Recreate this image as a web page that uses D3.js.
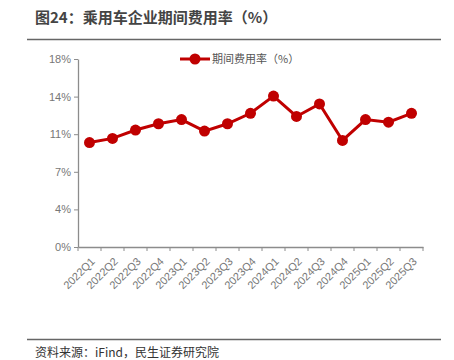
<!DOCTYPE html>
<html><head><meta charset="utf-8">
<script src="https://cdn.jsdelivr.net/npm/d3@7"></script>
<style>body{margin:0;background:#fff;font-family:"Noto Sans CJK SC","Liberation Sans",sans-serif;}</style>
</head><body><svg id="c" width="454" height="360"></svg>
<script>
const categories = ["2022Q1","2022Q2","2022Q3","2022Q4","2023Q1","2023Q2","2023Q3","2023Q4","2024Q1","2024Q2","2024Q3","2024Q4","2025Q1","2025Q2","2025Q3"];
const values = [10.0, 10.4, 11.2, 11.8, 12.2, 11.1, 11.8, 12.8, 14.45, 12.5, 13.7, 10.2, 12.2, 11.95, 12.8];
const yTicks = [0, 3.6, 7.2, 10.8, 14.4, 18];
const seriesName = "期间费用率（%）";
const title = "图24：乘用车企业期间费用率（%）";
const source = "资料来源：iFind，民生证券研究院";

const svg = d3.select("#c");
const L = 78, R = 423, T = 59, B = 247;
const x = d3.scaleBand().domain(categories).range([L, R]);
const y = d3.scaleLinear().domain([0, 18]).range([B, T]);
const red = "#C00000", axisC = "#8c8c8c", textC = "#777";

svg.append("text").attr("x", 35).attr("y", 23).attr("font-size", 15).attr("font-weight", "bold").attr("fill", "#444").text(title);
svg.append("line").attr("x1", 27).attr("x2", 441).attr("y1", 39.5).attr("y2", 39.5).attr("stroke", "#666").attr("stroke-width", 1.5);

const ya = svg.append("g").attr("transform", `translate(${L},0)`)
  .call(d3.axisLeft(y).tickValues(yTicks).tickFormat(d => Math.round(d) + "%").tickSize(4).tickSizeOuter(0));
ya.select(".domain").attr("stroke", axisC).attr("stroke-width", 1.3);
ya.selectAll(".tick line").attr("stroke", axisC);
ya.selectAll(".tick text").attr("fill", textC).attr("font-size", 11).attr("font-family", "Liberation Sans, sans-serif").attr("x", -7);

const xa = svg.append("g").attr("transform", `translate(0,${B})`)
  .call(d3.axisBottom(x).tickSize(0).tickSizeOuter(0));
xa.select(".domain").attr("stroke", axisC).attr("stroke-width", 1.3);
xa.selectAll(".tick text").attr("fill", textC).attr("font-size", 11).attr("font-family", "Liberation Sans, sans-serif")
  .attr("text-anchor", "end").attr("dy", 0).attr("transform", "translate(4,13) rotate(-45)");
// band boundary ticks
const bounds = categories.map(c => x(c)).concat([x(categories[categories.length-1]) + x.bandwidth()]);
svg.append("g").selectAll("line").data(bounds).join("line")
  .attr("x1", d => d).attr("x2", d => d).attr("y1", B).attr("y2", B + 4).attr("stroke", axisC);

const line = d3.line().x((d, i) => x(categories[i]) + x.bandwidth() / 2).y(d => y(d));
svg.append("path").datum(values).attr("d", line).attr("fill", "none").attr("stroke", red).attr("stroke-width", 3);
svg.append("g").selectAll("circle").data(values).join("circle")
  .attr("cx", (d, i) => x(categories[i]) + x.bandwidth() / 2).attr("cy", d => y(d)).attr("r", 5.5).attr("fill", red);

// legend
const lg = svg.append("g");
lg.append("line").attr("x1", 180).attr("x2", 210).attr("y1", 59).attr("y2", 59).attr("stroke", red).attr("stroke-width", 3);
lg.append("circle").attr("cx", 195).attr("cy", 59).attr("r", 5.5).attr("fill", red);
lg.append("text").attr("x", 212).attr("y", 63).attr("font-size", 11).attr("fill", "#555").text(seriesName);

svg.append("line").attr("x1", 27).attr("x2", 441).attr("y1", 339.5).attr("y2", 339.5).attr("stroke", "#666").attr("stroke-width", 1.5);
svg.append("text").attr("x", 35).attr("y", 357).attr("font-size", 12).attr("fill", "#333").text(source);
</script></body></html>
